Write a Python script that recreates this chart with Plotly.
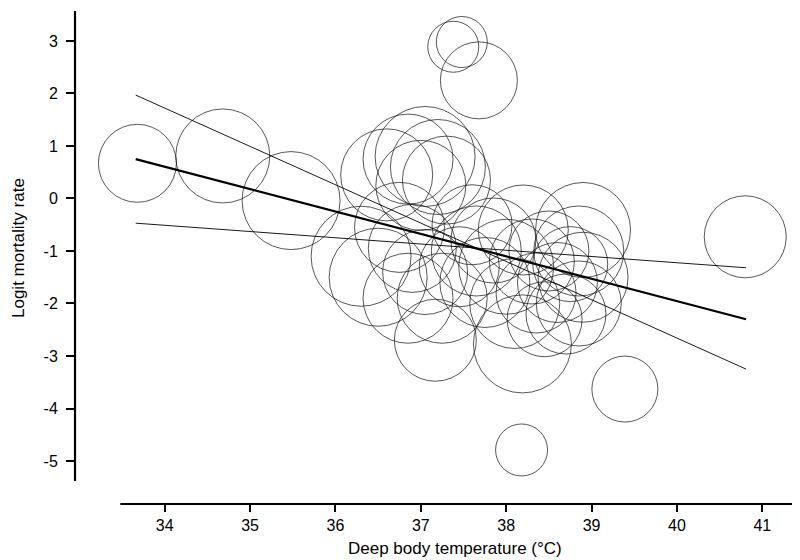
import plotly.graph_objects as go

# Bubble data: deep body temperature (°C), logit mortality rate, bubble diameter (px)
temp = [33.68, 34.68, 35.48, 37.38, 37.48, 37.68, 38.18, 39.39, 40.80,
        36.60, 36.85, 37.05, 37.20, 37.30, 37.00,
        36.30, 36.50, 36.75, 36.90, 36.85, 37.05, 37.17, 37.25,
        37.45, 37.60, 37.65, 37.75, 37.85, 38.00, 38.19, 38.10, 38.20, 38.30, 38.35, 38.45, 38.50,
        38.90, 38.85, 38.90, 38.85, 38.75, 38.60, 38.70]
logit = [0.67, 0.81, -0.04, 2.89, 2.98, 2.25, -4.79, -3.63, -0.73,
         0.45, 0.75, 0.80, 0.60, 0.35, 0.25,
         -1.10, -1.50, -0.55, -0.95, -1.90, -1.40, -2.70, -1.90,
         -1.30, -0.50, -1.00, -1.60, -0.80, -1.30, -2.77, -2.00, -0.60, -1.20, -1.80, -2.30, -1.00,
         -0.60, -1.00, -1.50, -2.00, -1.25, -1.60, -2.20]
size = [78, 94, 98, 51, 51, 77, 52, 66, 82,
        92, 90, 100, 95, 88, 90,
        100, 98, 90, 88, 90, 85, 82, 90,
        80, 80, 90, 90, 85, 95, 98, 90, 90, 85, 80, 75, 80,
        95, 90, 90, 85, 75, 80, 80]

# Regression line and its bounds
fit_x = [33.66, 40.81]
fit_y = [0.75, -2.30]
upper_y = [1.97, -3.25]
lower_y = [-0.47, -1.32]

x_ticks = [34, 35, 36, 37, 38, 39, 40, 41]
y_ticks = [3, 2, 1, 0, -1, -2, -3, -4, -5]
y_ticktext = [str(v) for v in y_ticks]

FONT = "Arial, Liberation Sans, sans-serif"

fig = go.Figure()
fig.add_trace(go.Scatter(
    x=temp, y=logit, mode="markers",
    marker=dict(symbol="circle-open", size=size, color="#111111",
                line=dict(width=1, color="#111111")),
    hoverinfo="x+y", showlegend=False))
for yy, w in [(fit_y, 2.2), (upper_y, 0.9), (lower_y, 0.9)]:
    fig.add_trace(go.Scatter(x=fit_x, y=yy, mode="lines",
                             line=dict(color="black", width=w),
                             showlegend=False, hoverinfo="skip"))

# detached axis lines
fig.add_shape(type="line", xref="paper", yref="y", x0=0, x1=0, y0=-5.38, y1=3.57,
              line=dict(color="black", width=2.2))
fig.add_shape(type="line", xref="x", yref="paper", x0=33.48, x1=41.5, y0=0, y1=0,
              line=dict(color="black", width=2.2))

fig.add_annotation(text="Deep body temperature (°C)", xref="paper", yref="paper",
                   x=(447 - 67) / 730, y=-(540 - 496) / 493, xanchor="center", yanchor="middle",
                   showarrow=False, borderpad=0,
                   font=dict(family=FONT, size=17, color="black"))
fig.add_annotation(text="Logit mortality rate", xref="paper", yref="paper",
                   x=-(67 - 10) / 730, y=(496 - 240) / 493, xanchor="center", yanchor="middle",
                   textangle=-90, showarrow=False, borderpad=0,
                   font=dict(family=FONT, size=17, color="black"))

fig.update_layout(
    width=800, height=560,
    margin=dict(l=67, r=3, t=3, b=64),
    paper_bgcolor="white", plot_bgcolor="white",
    font=dict(family=FONT, size=16, color="black"),
    xaxis=dict(range=[32.949, 41.5], tickvals=x_ticks, ticks="outside", ticklen=7,
               tickwidth=2, tickcolor="black", showgrid=False, zeroline=False,
               showline=False, tickfont=dict(size=16)),
    yaxis=dict(range=[-5.819, 3.571], tickvals=y_ticks, ticktext=y_ticktext,
               ticks="outside", ticklen=8, ticklabelstandoff=5,
               tickwidth=2, tickcolor="black", showgrid=False, zeroline=False,
               showline=False, tickfont=dict(size=16)),
)

fig.write_html("out.html")
